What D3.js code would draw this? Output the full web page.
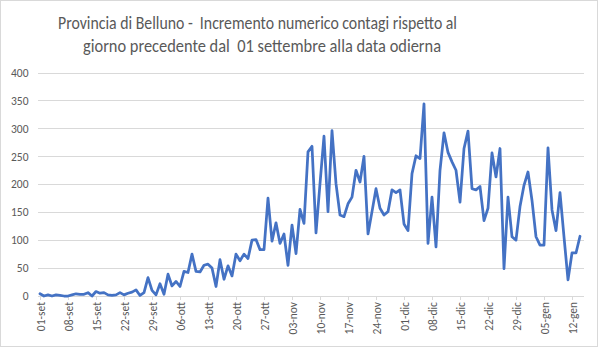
<!DOCTYPE html>
<html>
<head>
<meta charset="utf-8">
<script src="https://cdn.jsdelivr.net/npm/d3@7"></script>
<style>
  html, body { margin: 0; padding: 0; background: #ffffff; }
  svg { display: block; }
  text { font-family: Carlito, Calibri, Lato, "Open Sans", sans-serif; }
</style>
</head>
<body>
<svg id="chart" width="598" height="347"></svg>
<script>
// Daily increase of infections, Provincia di Belluno, from 1 September onward
const startDay = new Date(2020, 8, 1);
const monthNames = ["gen", "feb", "mar", "apr", "mag", "giu", "lug", "ago", "set", "ott", "nov", "dic"];

const dailyIncrease = [
  4, 0, 2, 0, 2, 1, 0, 0, 2, 4, 3, 3, 6, 0, 8, 5, 6, 2, 1, 2,
  6, 2, 5, 7, 11, 1, 6, 33, 10, 2, 22, 3, 39, 18, 26, 17, 44, 42, 75, 44,
  43, 55, 57, 50, 17, 65, 30, 54, 36, 75, 63, 75, 67, 100, 101, 83, 83, 175,
  98, 131, 94, 111, 55, 127, 76, 155, 130, 258, 268, 113, 201, 286, 151, 296, 201, 145,
  142, 165, 177, 225, 204, 250, 111, 151, 192, 157, 145, 151, 190, 185, 190, 129, 117, 219, 251, 246,
  344, 94, 177, 88, 225, 292, 257, 240, 225, 168, 264, 295, 192, 190, 196, 135, 157, 256,
  213, 264, 49, 177, 106, 100, 160, 198, 222, 171, 106, 91, 91, 265, 154, 117, 185, 106, 29, 77, 77, 107
];

const tickLabels = [
  "01-set", "08-set", "15-set", "22-set", "29-set", "06-ott", "13-ott", "20-ott",
  "27-ott", "03-nov", "10-nov", "17-nov", "24-nov", "01-dic", "08-dic", "15-dic",
  "22-dic", "29-dic", "05-gen", "12-gen"
];

const yTicks = [0, 50, 100, 150, 200, 250, 300, 350, 400];

const titleLines = [
  "Provincia di Belluno -  Incremento numerico contagi rispetto al",
  "giorno precedente dal  01 settembre alla data odierna"
];

// one category label per day, "dd-mmm"
const categories = dailyIncrease.map((_, i) => {
  const d = d3.timeDay.offset(startDay, i);
  return String(d.getDate()).padStart(2, "0") + "-" + monthNames[d.getMonth()];
});

const svg = d3.select("#chart");

// outer chart border
svg.append("rect")
  .attr("x", 0.5).attr("y", 0.5)
  .attr("width", 597).attr("height", 346)
  .attr("fill", "#ffffff")
  .attr("stroke", "#d9d9d9");

const x = d3.scalePoint().domain(categories).range([40, 580]);
const y = d3.scaleLinear().domain([0, 400]).range([296, 72.5]);

// title
const titleSpecs = [
  { x: 58, y: 29, w: 399 },
  { x: 83, y: 52, w: 358 }
];
titleLines.forEach((t, i) => {
  svg.append("text")
    .attr("x", titleSpecs[i].x)
    .attr("y", titleSpecs[i].y)
    .attr("textLength", titleSpecs[i].w)
    .attr("lengthAdjust", "spacingAndGlyphs")
    .style("white-space", "pre")
    .attr("font-size", 18)
    .attr("fill", "#595959")
    .text(t);
});

// horizontal gridlines and value labels
const yAxis = d3.axisLeft(y)
  .tickValues(yTicks)
  .tickSize(-(584 - 38))
  .tickPadding(10)
  .tickFormat(d3.format("d"));

const gy = svg.append("g")
  .attr("transform", "translate(38,0)")
  .call(yAxis);
gy.select(".domain").remove();
gy.selectAll(".tick line")
  .attr("stroke", "#d9d9d9")
  .attr("stroke-width", 1)
  .attr("shape-rendering", "crispEdges");
gy.selectAll(".tick text")
  .attr("font-size", 11.5)
  .attr("fill", "#595959")
  .attr("x", -9.5);

// category axis
const xAxis = d3.axisBottom(x)
  .tickValues(tickLabels)
  .tickSize(4)
  .tickSizeOuter(0);

const gx = svg.append("g")
  .attr("transform", "translate(0,296)")
  .call(xAxis);
gx.select(".domain")
  .attr("d", "M38,0.5H584")
  .attr("stroke", "#d9d9d9")
  .attr("shape-rendering", "crispEdges");
gx.selectAll(".tick line")
  .attr("stroke", "#d9d9d9")
  .attr("shape-rendering", "crispEdges");
gx.selectAll(".tick text")
  .attr("font-size", 11.5)
  .attr("fill", "#595959")
  .attr("text-anchor", "end")
  .attr("transform", "rotate(-90)")
  .attr("x", -6)
  .attr("y", 0)
  .attr("dy", "0.35em");

// data line
const line = d3.line()
  .x((d, i) => x(categories[i]))
  .y(d => y(d));

svg.append("path")
  .datum(dailyIncrease)
  .attr("d", line)
  .attr("fill", "none")
  .attr("stroke", "#4472C4")
  .attr("stroke-width", 2.75)
  .attr("stroke-linejoin", "round")
  .attr("stroke-linecap", "round");
</script>
</body>
</html>
